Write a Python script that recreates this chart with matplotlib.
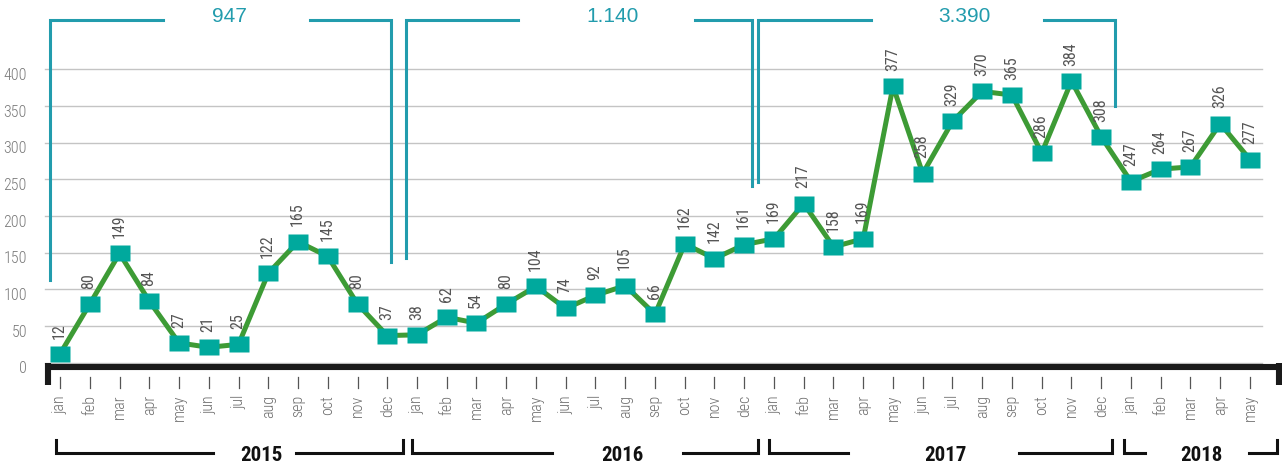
import matplotlib
matplotlib.use('Agg')
import matplotlib.pyplot as plt
import numpy as np

# data
months = ['jan', 'feb', 'mar', 'apr', 'may', 'jun', 'jul', 'aug', 'sep', 'oct', 'nov', 'dec']
years = ['2015', '2016', '2017', '2018']
values_2015 = [12, 80, 149, 84, 27, 21, 25, 122, 165, 145, 80, 37]
values_2016 = [38, 62, 54, 80, 104, 74, 92, 105, 66, 162, 142, 161]
values_2017 = [169, 217, 158, 169, 377, 258, 329, 370, 365, 286, 384, 308]
values_2018 = [247, 264, 267, 326, 277]
yearly_totals = ['947', '1.140', '3.390']
y_ticks = [0, 50, 100, 150, 200, 250, 300, 350, 400]

values = values_2015 + values_2016 + values_2017 + values_2018
month_labels = months * 3 + months[:len(values_2018)]
x = np.arange(len(values))

plt.rcParams['font.family'] = ['Roboto Condensed', 'Liberation Sans Narrow', 'Liberation Sans', 'DejaVu Sans']

TEAL_LINE = '#229cad'
GREEN = '#3d9b35'
TEAL = '#00a99d'

fig = plt.figure(figsize=(12.82, 4.65), dpi=100)
ax = fig.add_axes([0, 0, 1, 1])
ax.set_xlim(-2.017, 41.076)
ax.set_ylim(-139.5, 494.6)
ax.axis('off')

# grid + y labels
for t in y_ticks:
    ax.plot([-0.504, 40.4], [t, t], color='#c4c4c4', lw=1.0, zorder=1)
    ax.text(-1.11, t - 8.2, str(t), ha='right', va='center', fontsize=11.5,
            fontweight='light', color='#7a7a7a')

# bottom axis bar with end stubs
ax.plot([-0.504, 41.08], [-5.2, -5.2], color='#1a1a1a', lw=4.4, solid_capstyle='butt', zorder=3)
ax.plot([-0.403, -0.403], [0, -30.4], color='#1a1a1a', lw=4.4, solid_capstyle='butt', zorder=3)
ax.plot([40.96, 40.96], [0, -30.4], color='#1a1a1a', lw=4.4, solid_capstyle='butt', zorder=3)

# month ticks and labels
for xi, m in zip(x, month_labels):
    ax.plot([xi, xi], [-19.5, -34.5], color='#555555', lw=0.9)
    ax.text(xi, -44, m, rotation=90, ha='center', va='top', fontsize=11.5,
            fontweight='light', color='#707070')

# top brackets with yearly totals (left, right, left bottom, right bottom, gap start, gap end, text x)
top_brackets = [
    (-0.336, 11.13, 112.8, 137.7, 3.46, 8.40, 5.68),
    (11.63, 23.25, 142.8, 241.0, 15.39, 21.34, 18.57),
    (23.46, 35.46, 246.8, 350.0, 27.25, 33.08, 30.39),
]
for (l, r, lb, rb, g1, g2, tx), total in zip(top_brackets, yearly_totals):
    ax.plot([l, l, g1], [lb, 467, 467], color=TEAL_LINE, lw=2.2, solid_joinstyle='miter', zorder=2)
    ax.plot([g2, r, r], [467, 467, rb], color=TEAL_LINE, lw=2.2, solid_joinstyle='miter', zorder=2)
    ax.text(tx, 465, total, ha='center', va='baseline', fontsize=15, color=TEAL_LINE,
            family=['Liberation Sans', 'DejaVu Sans'])

# year brackets at the bottom
year_brackets = [
    (-0.134, 11.53, 5.14, 7.93, 6.76),
    (11.82, 23.46, 16.54, 20.94, 18.89),
    (23.83, 35.36, 26.49, 32.24, 29.75),
    (35.76, 40.91, 36.47, 39.97, 38.35),
]
for (l, r, g1, g2, tx), yr in zip(year_brackets, years):
    ax.plot([l, l, g1], [-105.4, -123.5, -123.5], color='#111111', lw=2.2, solid_joinstyle='miter')
    ax.plot([g2, r, r], [-123.5, -123.5, -105.4], color='#111111', lw=2.2, solid_joinstyle='miter')
    ax.text(tx, -134, yr, ha='center', va='baseline', fontsize=15, fontweight='bold', color='#111111')

# series
rect = [(-1, -0.79), (1, -0.79), (1, 0.79), (-1, 0.79), (-1, -0.79)]
ax.plot(x, values, color=GREEN, lw=3.6, zorder=4,
        marker=rect, markersize=13.7, markerfacecolor=TEAL, markeredgecolor='none')

for xi, v in zip(x, values):
    ax.annotate(str(v), (xi, v), xytext=(-0.5, 11), textcoords='offset points',
                rotation=90, ha='center', va='bottom', fontsize=11.5,
                color='#555555', zorder=5)

fig.savefig('out.png', dpi=100)
plt.close(fig)
